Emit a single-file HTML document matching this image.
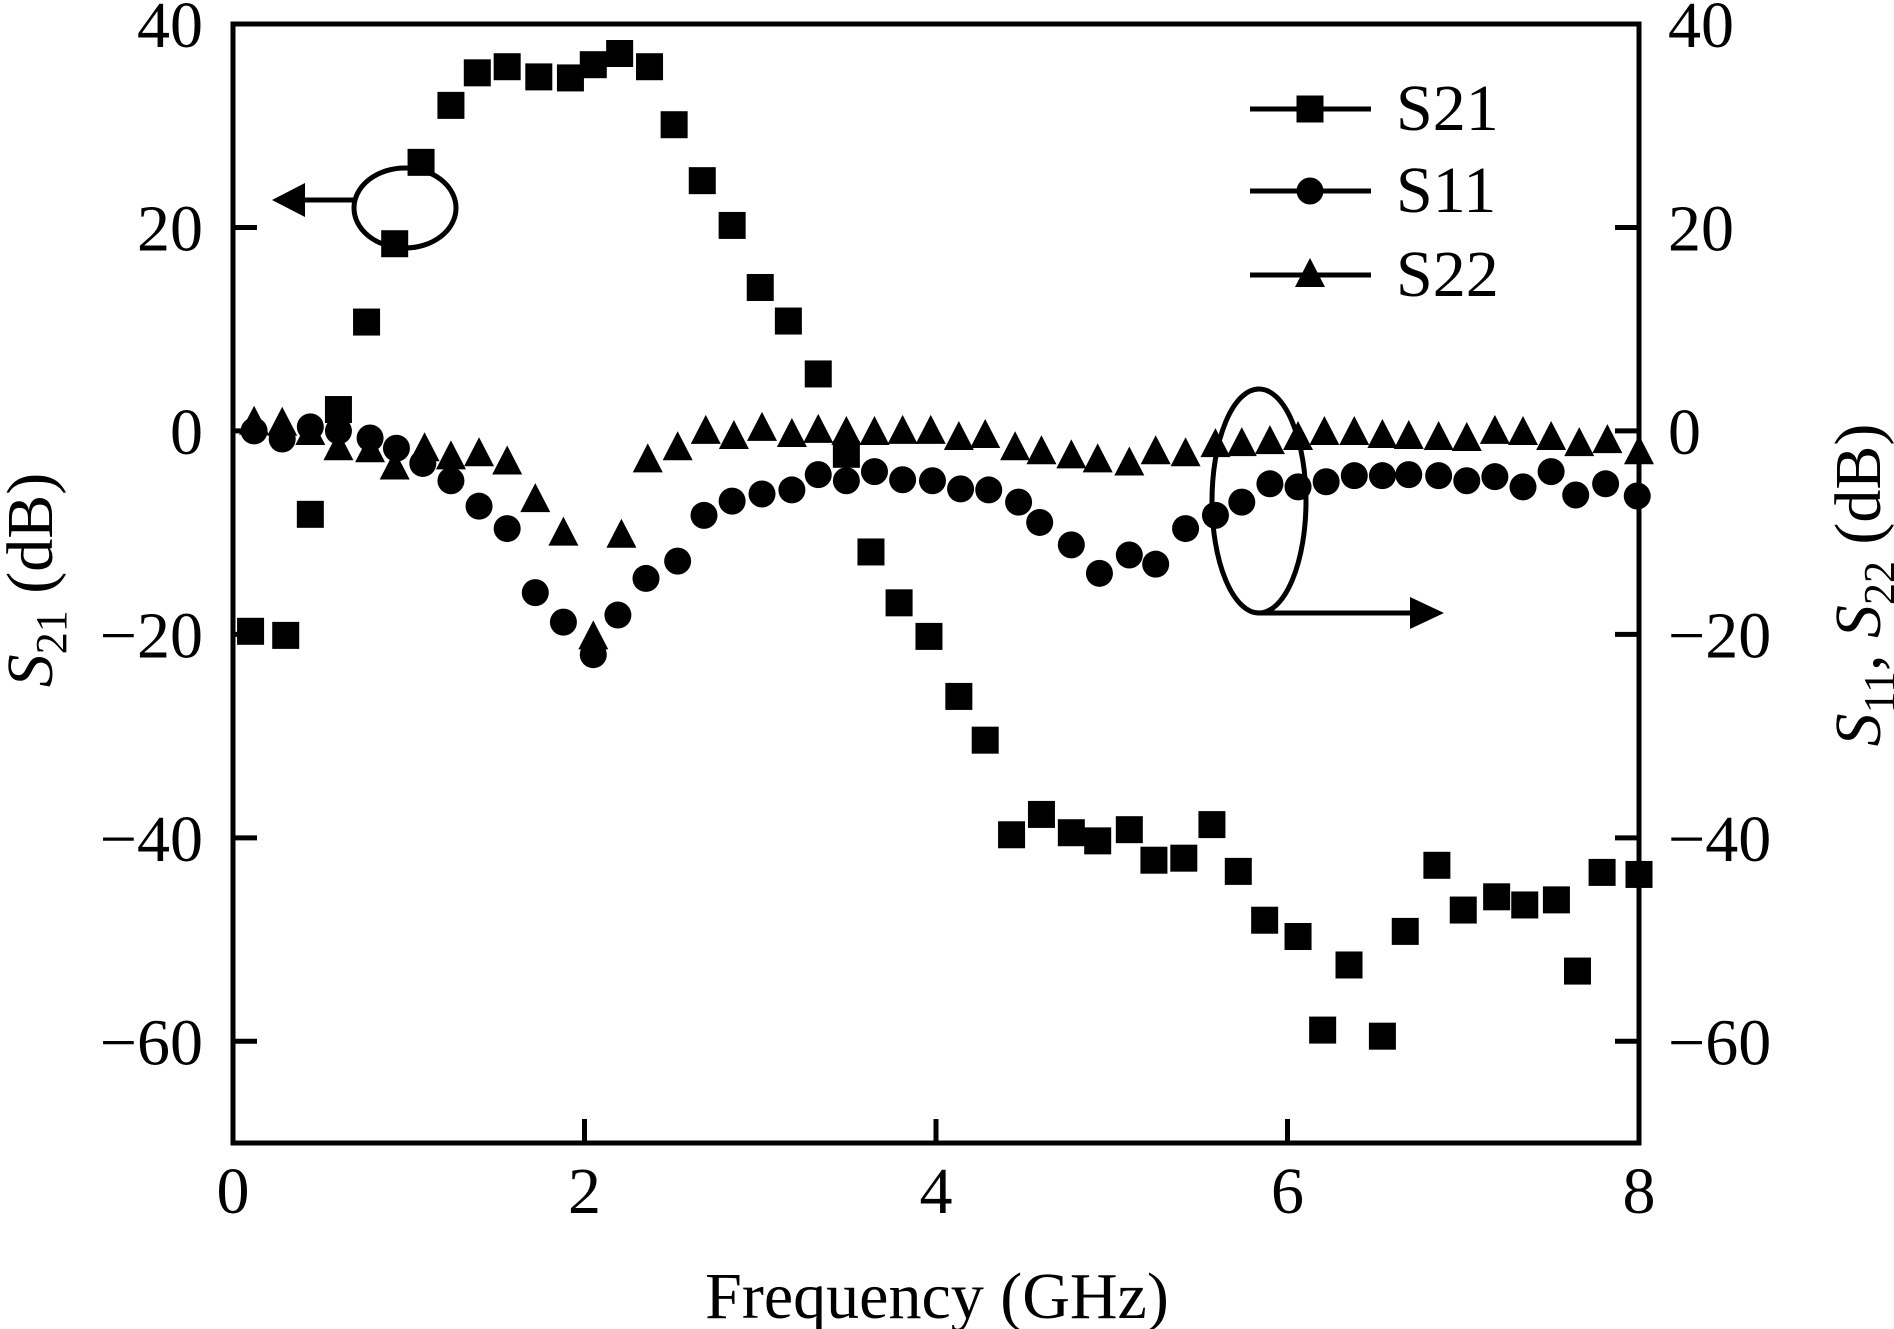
<!DOCTYPE html>
<html><head><meta charset="utf-8"><style>
html,body{margin:0;padding:0;background:#fff}
svg{display:block}
text{font-family:"Liberation Serif",serif;fill:#000}
</style></head><body>
<svg id="c" width="1894" height="1329" viewBox="0 0 1894 1329"></svg>
<script>
const freqS21=[0.1,0.3,0.44,0.6,0.76,0.92,1.07,1.24,1.39,1.56,1.74,1.92,2.05,2.2,2.37,2.51,2.67,2.84,3.0,3.16,3.33,3.49,3.63,3.79,3.96,4.13,4.28,4.43,4.6,4.77,4.92,5.1,5.24,5.41,5.57,5.72,5.87,6.06,6.2,6.35,6.54,6.67,6.85,7.0,7.19,7.35,7.53,7.65,7.79,8.0];
const s21=[-19.7,-20.1,-8.2,2.1,10.7,18.4,26.4,32,35.2,35.8,34.8,34.7,36,37.1,35.8,30.1,24.6,20.2,14.1,10.8,5.6,-2.3,-11.9,-16.9,-20.2,-26.1,-30.4,-39.7,-37.7,-39.5,-40.3,-39.2,-42.2,-42,-38.7,-43.3,-48.1,-49.7,-58.9,-52.5,-59.5,-49.2,-42.7,-47.1,-45.8,-46.6,-46.1,-53.1,-43.4,-43.6];
const freqS11=[0.12,0.28,0.44,0.6,0.78,0.93,1.08,1.24,1.4,1.56,1.72,1.88,2.05,2.19,2.35,2.53,2.68,2.84,3.01,3.18,3.33,3.49,3.65,3.81,3.98,4.14,4.3,4.47,4.59,4.77,4.93,5.1,5.25,5.42,5.59,5.74,5.9,6.06,6.22,6.38,6.54,6.69,6.86,7.02,7.18,7.34,7.5,7.64,7.81,7.99];
const s11=[0,-0.8,0.4,0,-0.7,-1.7,-3.2,-4.9,-7.4,-9.6,-15.9,-18.8,-22,-18.1,-14.5,-12.8,-8.3,-6.9,-6.2,-5.8,-4.3,-4.9,-4,-4.8,-4.9,-5.7,-5.8,-7,-9,-11.2,-14,-12.2,-13.1,-9.6,-8.3,-7,-5.2,-5.5,-5,-4.4,-4.4,-4.3,-4.4,-4.9,-4.5,-5.5,-4,-6.3,-5.2,-6.4];
const freqS22=[0.12,0.28,0.44,0.6,0.78,0.92,1.09,1.24,1.4,1.56,1.72,1.88,2.05,2.21,2.36,2.53,2.69,2.85,3.01,3.18,3.33,3.49,3.65,3.81,3.97,4.13,4.28,4.45,4.6,4.77,4.92,5.1,5.25,5.42,5.59,5.74,5.9,6.06,6.21,6.38,6.54,6.69,6.86,7.02,7.18,7.34,7.5,7.66,7.82,8.0];
const s22=[0.8,0.7,-0.2,-1.7,-1.9,-3.6,-1.8,-2.6,-2.3,-3.1,-6.8,-10.1,-20.3,-10.3,-2.9,-1.7,-0.1,-0.6,0.2,-0.4,0,-0.2,-0.2,-0.1,-0.1,-0.7,-0.5,-1.7,-2.1,-2.5,-2.9,-3.2,-2.1,-2.3,-1.4,-1.3,-1.1,-0.7,-0.2,-0.2,-0.5,-0.6,-0.7,-0.8,-0.1,-0.2,-0.7,-1.3,-1,-2.1];
const xTicks=[0,2,4,6,8];
const yTicks=[40,20,0,-20,-40,-60];

const L=233,R=1639,T=24,B=1143;
const xs=v=>L+(v-0)/8*(R-L);
const ys=v=>T+(40-v)/110*(B-T);
const NS="http://www.w3.org/2000/svg";
const svg=document.getElementById('c');
function mk(tag,attrs,parent){const e=document.createElementNS(NS,tag);for(const k in attrs)e.setAttribute(k,attrs[k]);(parent||svg).appendChild(e);return e;}

const frame=mk('rect',{x:L,y:T,width:R-L,height:B-T,fill:'none',stroke:'#000','stroke-width':5});



yTicks.forEach(v=>{
  const y=ys(v);
  const t1=mk('line',{x1:L,x2:L+24,y1:y,y2:y,stroke:'#000','stroke-width':5});
  
  
  const t2=mk('line',{x1:R-24,x2:R,y1:y,y2:y,stroke:'#000','stroke-width':5});
  
  
  const lab=v<0?'\u2212'+(-v):String(v);
  const a=mk('text',{x:L-30,y:y+23,'text-anchor':'end','font-size':66});
  a.textContent=lab;
  
  
  const b=mk('text',{x:R+29,y:y+23,'text-anchor':'start','font-size':66});
  b.textContent=lab;
  
  
});
xTicks.forEach(v=>{
  const x=xs(v);
  if(v>0&&v<8){
    const t=mk('line',{x1:x,x2:x,y1:B,y2:B-24,stroke:'#000','stroke-width':5});
    
    
  }
  const l=mk('text',{x:x,y:B+70,'text-anchor':'middle','font-size':66});
  l.textContent=String(v);
  
  
});

const xt=mk('text',{x:937,y:1318,'text-anchor':'middle','font-size':66});
xt.textContent='Frequency (GHz)';


const yl=mk('text',{x:0,y:0,'text-anchor':'middle','font-size':66,transform:'translate(52,580) rotate(-90)'});
yl.innerHTML='<tspan font-style="italic">S</tspan><tspan font-size="44" dy="14">21</tspan><tspan dy="-14"> (dB)</tspan>';


const yr=mk('text',{x:0,y:0,'text-anchor':'middle','font-size':66,transform:'translate(1880,585) rotate(-90)'});
yr.innerHTML='<tspan font-style="italic">S</tspan><tspan font-size="44" dy="14">11</tspan><tspan dy="-14">, </tspan><tspan font-style="italic">S</tspan><tspan font-size="44" dy="14">22</tspan><tspan dy="-14"> (dB)</tspan>';



function sq(x,y,g){return mk('rect',{x:x-13.5,y:y-13.5,width:27,height:27,fill:'#000'},g);}
function ci(x,y,g){return mk('circle',{cx:x,cy:y,r:13.5,fill:'#000'},g);}
function tr(x,y,g){return mk('polygon',{points:`${x},${y-17} ${x-15},${y+12} ${x+15},${y+12}`,fill:'#000'},g);}

const g22=mk('g',{});


freqS22.forEach((f,i)=>{const m=tr(xs(f),ys(s22[i]),g22);
  
  });
const g11=mk('g',{});


freqS11.forEach((f,i)=>{const m=ci(xs(f),ys(s11[i]),g11);
  
  });
const g21=mk('g',{});


freqS21.forEach((f,i)=>{const m=sq(xs(f),ys(s21[i]),g21);
  
  });

const e1=mk('ellipse',{cx:405,cy:208,rx:51,ry:40,fill:'none',stroke:'#000','stroke-width':5});


const a1=mk('line',{x1:354,y1:200,x2:300,y2:200,stroke:'#000','stroke-width':5});


const h1=mk('polygon',{points:'272,200 305,183 305,217',fill:'#000'});


const e2=mk('ellipse',{cx:1259,cy:501,rx:47,ry:112,fill:'none',stroke:'#000','stroke-width':5});


const a2=mk('line',{x1:1259,y1:613,x2:1415,y2:613,stroke:'#000','stroke-width':5});


const h2=mk('polygon',{points:'1444,613 1410,597 1410,629',fill:'#000'});



const leg=[['S21',sq,109],['S11',ci,191],['S22',tr,275]];
leg.forEach(([name,fn,y])=>{
  const g=mk('g',{});
  
  
  mk('line',{x1:1250,x2:1371,y1:y,y2:y,stroke:'#000','stroke-width':5},g);
  fn(1310,y,g);
  const t=mk('text',{x:1396,y:y+21,'font-size':66},g);
  t.textContent=name;
});
</script>
</body></html>
